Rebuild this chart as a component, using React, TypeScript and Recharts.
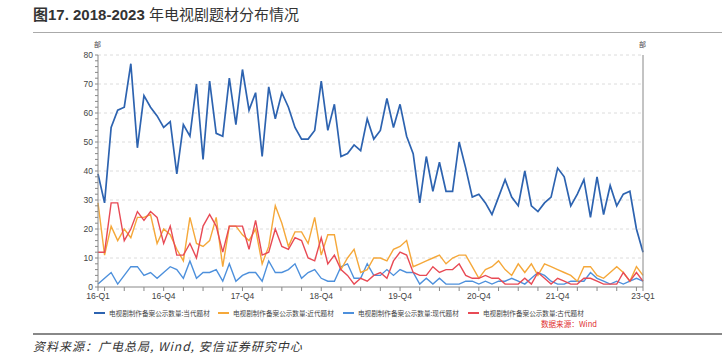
import React from 'react';
import { LineChart, Line, XAxis, YAxis, ReferenceLine } from 'recharts';

// 电视剧制作备案公示数量, monthly, 2016-01 .. 2022-12
const dangdai = [
  39, 29, 55, 61, 62, 77, 48, 66, 62, 59, 55, 57, 39, 56, 52, 70, 44, 71, 53, 52, 72, 56, 75, 61, 67, 45,
  69, 58, 67, 62, 55, 51, 51, 54, 71, 54, 63, 45, 46, 49, 47, 58, 51, 54, 65, 55, 63, 52, 46,
  29, 45, 33, 43, 33, 33, 50,
  41, 31, 32, 29, 25, 31, 37, 31, 28, 40, 28, 26, 29, 31, 41, 38, 28, 32, 37, 24, 38, 25, 35, 28, 32, 33, 20, 12,
];
const jindai = [
  29, 11, 21, 16, 20, 17, 24, 24, 25, 15, 20, 18, 13, 9, 24, 15, 14, 16, 24, 7, 21, 21, 18, 16, 20, 8,
  14, 28, 22, 14, 19, 19, 15, 24, 11, 18, 18, 6, 10, 13, 5, 6, 10, 10, 9, 13, 14, 16, 7,
  8, 9, 10, 11, 8,
  10, 11, 11, 7, 3, 6, 7, 9, 6, 4, 8, 5, 8, 4, 8, 7, 6, 5, 4, 2, 7, 7, 4, 3, 5, 7, 5, 2, 7, 4,
];
const xiandai = [
  1, 3, 5, 1, 4, 7, 7, 4, 5, 3, 5, 7, 6, 3, 9, 3, 5, 5, 6, 2, 8, 2, 4, 5, 5,
  2, 9, 5, 5, 6, 8, 3, 5, 6, 3, 2, 2, 7, 8, 3, 3, 8, 4, 4, 6, 4, 6, 5, 5, 1, 3, 1, 3, 1,
  1, 1, 2, 2, 1, 2, 1, 2, 2, 3, 2, 1, 3, 5, 4, 2, 1, 1, 2, 2, 2, 5, 3, 2, 1, 2, 1, 2, 3, 2,
];
const gudai = [
  12, 12, 29, 29, 16, 20, 26, 23, 26, 24, 15, 21, 11, 11, 15, 10, 21, 25, 21, 12, 21, 21, 21, 13, 23,
  11, 12, 20, 14, 13, 17, 16, 10, 9, 17, 8, 11, 6, 4, 1, 3, 2, 4, 5, 3, 9, 12, 11, 5, 4, 4, 7, 5, 6,
  6, 8, 4, 3, 3, 4, 3, 3, 1, 1, 1, 3, 1, 5, 3, 1, 3, 2, 1, 1, 3, 3, 2, 1, 1, 1, 5, 2, 5, 2,
];

const labelIdx = [0, 10, 22, 34, 46, 58, 70, 83];
const labelText = ['16-Q1', '16-Q4', '17-Q4', '18-Q4', '19-Q4', '20-Q4', '21-Q4', '23-Q1'];
const seriesNames = [
  '电视剧制作备案公示数量:当代题材',
  '电视剧制作备案公示数量:近代题材',
  '电视剧制作备案公示数量:现代题材',
  '电视剧制作备案公示数量:古代题材',
];
const colors = ['#2d63b0', '#f5a83a', '#4d90dc', '#e84a55'];

const data = dangdai.map((v, i) => ({
  i,
  dangdai: v,
  jindai: jindai[i],
  xiandai: xiandai[i],
  gudai: gudai[i],
}));

const xTicks = [0];
for (let k = 1; k < 83; k += 3) xTicks.push(k);
xTicks.push(83);
const yTicks: number[] = [];
for (let v = 0; v <= 80; v += 2) yTicks.push(v);
const gridVals = [10, 20, 30, 40, 50, 60, 70, 80];

const xFmt = (v: number) => {
  const k = labelIdx.indexOf(v);
  return k >= 0 ? labelText[k] : '';
};
const yFmt = (v: number) => (v % 10 === 0 ? String(v) : '');

const font = '"Liberation Sans", Arial, "Noto Sans CJK SC", sans-serif';
const cjk = '"Noto Sans CJK SC", sans-serif';
const tickStyle = { fill: '#444', fontSize: 8.5, fontFamily: font };
const legendLeft = [94, 218, 343, 468];

export default function App() {
  return (
    <div style={{ position: 'absolute', left: 0, top: 0, width: 722, height: 357, background: '#fff', fontFamily: font, overflow: 'hidden' }}>
      <div style={{ position: 'absolute', left: 33, top: 3, fontSize: 15, color: '#333', whiteSpace: 'nowrap' }}>
        <span style={{ fontWeight: 700 }}>图17. 2018-2023 </span>
        <span>年电视剧题材分布情况</span>
      </div>
      <div style={{ position: 'absolute', left: 33, top: 32, width: 689, height: 1, background: '#aaa' }} />

      <div style={{ position: 'absolute', left: 94, top: 39, fontSize: 7, color: '#444', fontFamily: cjk }}>部</div>
      <div style={{ position: 'absolute', left: 639, top: 39, fontSize: 7, color: '#444', fontFamily: cjk }}>部</div>

      <div style={{ position: 'absolute', left: 0, top: 0 }}>
        <LineChart width={722} height={307} data={data} margin={{ top: 55, right: 0, left: 0, bottom: 0 }}>
          <XAxis
            dataKey="i"
            type="number"
            domain={[0, 83]}
            ticks={xTicks}
            interval={0}
            tickFormatter={xFmt}
            height={20}
            tickSize={4}
            tickMargin={2}
            stroke="#888"
            tick={tickStyle}
          />
          <YAxis
            yAxisId="left"
            width={98}
            domain={[0, 80]}
            ticks={yTicks}
            interval={0}
            tickFormatter={yFmt}
            tickSize={3}
            tickMargin={2}
            stroke="#888"
            tick={tickStyle}
          />
          <YAxis
            yAxisId="right"
            orientation="right"
            width={79}
            domain={[0, 80]}
            ticks={yTicks}
            interval={0}
            tickFormatter={yFmt}
            tickSize={3}
            tickMargin={2}
            stroke="#888"
            tick={tickStyle}
          />
          {gridVals.map((v) => (
            <ReferenceLine key={v} y={v} yAxisId="left" stroke="#dcdcdc" strokeDasharray="3 3" />
          ))}
          <Line yAxisId="left" dataKey="xiandai" stroke={colors[2]} strokeWidth={1.4} dot={false} isAnimationActive={false} />
          <Line yAxisId="left" dataKey="jindai" stroke={colors[1]} strokeWidth={1.4} dot={false} isAnimationActive={false} />
          <Line yAxisId="left" dataKey="gudai" stroke={colors[3]} strokeWidth={1.4} dot={false} isAnimationActive={false} />
          <Line yAxisId="left" dataKey="dangdai" stroke={colors[0]} strokeWidth={1.7} dot={false} isAnimationActive={false} />
        </LineChart>
      </div>

      {seriesNames.map((name, k) => (
        <div key={name} style={{ position: 'absolute', left: legendLeft[k], top: 308, display: 'flex', alignItems: 'center', whiteSpace: 'nowrap' }}>
          <div style={{ width: 11, height: 2, background: colors[k], marginRight: 4 }} />
          <span style={{ fontSize: 6.6, color: '#444', fontFamily: cjk }}>{name}</span>
        </div>
      ))}
      <div style={{ position: 'absolute', right: 125, top: 318, fontSize: 7.6, color: '#e03030', whiteSpace: 'nowrap', fontFamily: cjk }}>
        数据来源：Wind
      </div>
      <div style={{ position: 'absolute', left: 33, top: 333, width: 689, height: 1.5, background: '#888' }} />
      <div style={{ position: 'absolute', left: 33, top: 337, fontSize: 12, letterSpacing: 1, fontStyle: 'italic', color: '#333', whiteSpace: 'nowrap', fontFamily: cjk }}>
        资料来源：广电总局, Wind, 安信证券研究中心
      </div>
    </div>
  );
}
